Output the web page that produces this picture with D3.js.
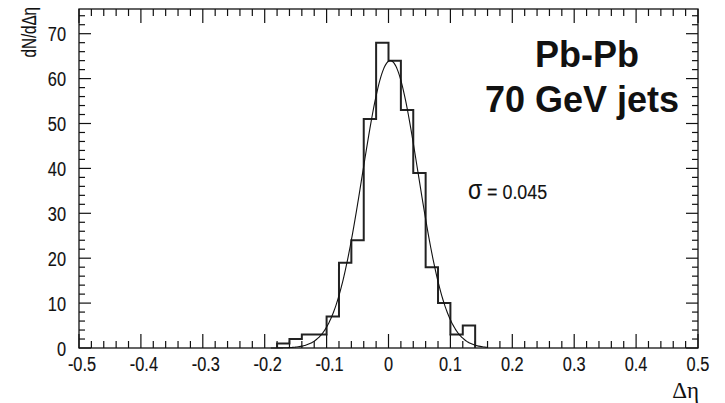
<!DOCTYPE html>
<html>
<head>
<meta charset="utf-8">
<script src="https://cdn.jsdelivr.net/npm/d3@7"></script>
<style>
  body { margin: 0; background: #fff; }
  svg { display: block; }
  text { font-family: "Liberation Sans", Arial, sans-serif; fill: #111; }
  .thick { stroke: #111; stroke-width: 0.15px; }
</style>
</head>
<body>
<div id="chart"></div>
<script>
// histogram of delta eta, bins of 0.02 starting at -0.18
var binStart = -0.18
  , binWidth = 0.02
  , counts = [1, 2, 3, 3, 7, 19, 24, 51, 68, 64, 53, 39, 18, 10, 3, 5]
  , xTicks = [-0.5, -0.4, -0.3, -0.2, -0.1, 0, 0.1, 0.2, 0.3, 0.4, 0.5]
  , yTicks = [0, 10, 20, 30, 40, 50, 60, 70]
  // gaussian fit parameters
  , fitAmp = 64
  , fitMean = 0.003
  , fitSigma = 0.045
  , fitRange = [-0.19, 0.16];

var width = 725
  , height = 403
  , margin = {top: 9, right: 27, bottom: 55, left: 79}
  , innerW = width - margin.left - margin.right
  , innerH = height - margin.top - margin.bottom
  , squeeze = 0.78;   // the original fonts are narrower than Liberation

var svg = d3.select("#chart").append("svg")
    .attr("width", width)
    .attr("height", height);

var x = d3.scaleLinear().domain([-0.5, 0.5]).range([margin.left, margin.left + innerW]);
var y = d3.scaleLinear().domain([0, 75.5]).range([margin.top + innerH, margin.top]);

var x0 = margin.left, x1 = margin.left + innerW
  , y0 = margin.top + innerH, y1 = margin.top;

// minor + major ticks, ROOT style, mirrored on all four sides
var xMinor = d3.range(-0.5, 0.5001, 0.02)
  , yMinor = d3.range(0, 75.5, 2)
  , isMajorX = d => Math.abs(Math.round(d * 10) - d * 10) < 1e-6;

var ticks = svg.append("g").attr("stroke", "#111").attr("stroke-width", 1.2);

ticks.selectAll(".xt")
    .data(xMinor)
  .enter().append("line")
    .attr("x1", d => x(d)).attr("x2", d => x(d))
    .attr("y1", y0)
    .attr("y2", d => y0 - (isMajorX(d) ? 14 : 7));

ticks.selectAll(".xtt")
    .data(xMinor)
  .enter().append("line")
    .attr("x1", d => x(d)).attr("x2", d => x(d))
    .attr("y1", y1)
    .attr("y2", d => y1 + (isMajorX(d) ? 14 : 7));

ticks.selectAll(".yt")
    .data(yMinor)
  .enter().append("line")
    .attr("y1", d => y(d)).attr("y2", d => y(d))
    .attr("x1", x0)
    .attr("x2", d => x0 + (d % 10 === 0 ? 12 : 6));

ticks.selectAll(".ytr")
    .data(yMinor)
  .enter().append("line")
    .attr("y1", d => y(d)).attr("y2", d => y(d))
    .attr("x1", x1)
    .attr("x2", d => x1 - (d % 10 === 0 ? 12 : 6));

// frame
svg.append("rect")
    .attr("x", x0).attr("y", y1)
    .attr("width", innerW).attr("height", innerH)
    .attr("fill", "none")
    .attr("stroke", "#111")
    .attr("stroke-width", 1.3);

// tick labels
svg.append("g").selectAll("text")
    .data(xTicks)
  .enter().append("text")
    .classed("thick", true)
    .attr("transform", d => "translate(" + (x(d) + (d < 0 ? 3 : 0)) + ",371) scale(" + squeeze + ",1)")
    .attr("text-anchor", "middle")
    .style("font-size", "21px")
    .text(d => String(d));

svg.append("g").selectAll("text")
    .data(yTicks)
  .enter().append("text")
    .classed("thick", true)
    .attr("transform", d => "translate(66," + y(d) + ") scale(" + squeeze + ",1)")
    .attr("dy", "0.36em")
    .attr("text-anchor", "end")
    .style("font-size", "21px")
    .text(d => d);

// axis titles
svg.append("text")
    .classed("thick", true)
    .attr("transform", "translate(36,7) rotate(-90) scale(0.72,1)")
    .attr("text-anchor", "end")
    .style("font-size", "21px")
    .text("dN/dΔη");

svg.append("text")
    .attr("x", 699)
    .attr("y", 398)
    .attr("text-anchor", "end")
    .style("font-family", "'Liberation Serif', 'Times New Roman', serif")
    .style("font-size", "23px")
    .text("Δη");

// histogram as a step outline
var stepPts = [[binStart, 0]];
counts.forEach(function(c, i){
  var lo = binStart + i * binWidth;
  stepPts.push([lo, c]);
  stepPts.push([lo + binWidth, c]);
});
stepPts.push([binStart + counts.length * binWidth, 0]);

svg.append("path")
    .datum(stepPts)
    .attr("fill", "none")
    .attr("stroke", "#222")
    .attr("stroke-width", 2)
    .attr("d", d3.line().x(d => x(d[0])).y(d => y(d[1])));

// gaussian fit curve
var fitPts = d3.range(fitRange[0], fitRange[1] + 1e-9, 0.002).map(function(v){
  return [v, fitAmp * Math.exp(-Math.pow(v - fitMean, 2) / (2 * fitSigma * fitSigma))];
});

svg.append("path")
    .datum(fitPts)
    .attr("fill", "none")
    .attr("stroke", "#111")
    .attr("stroke-width", 1.1)
    .attr("d", d3.line().curve(d3.curveMonotoneX).x(d => x(d[0])).y(d => y(d[1])));

// labels
svg.append("text")
    .attr("x", 587).attr("y", 67)
    .attr("text-anchor", "middle")
    .style("font-size", "36px")
    .style("font-weight", "bold")
    .text("Pb-Pb");

svg.append("text")
    .attr("x", 582).attr("y", 112)
    .attr("text-anchor", "middle")
    .style("font-size", "36px")
    .style("font-weight", "bold")
    .text("70 GeV jets");

var sig = svg.append("text")
    .classed("thick", true)
    .attr("transform", "translate(468,199) scale(0.85,1)")
    .style("font-size", "21px");
sig.append("tspan")
    .style("font-size", "27px")
    .text("σ");
sig.append("tspan").text(" = 0.045");
</script>
</body>
</html>
